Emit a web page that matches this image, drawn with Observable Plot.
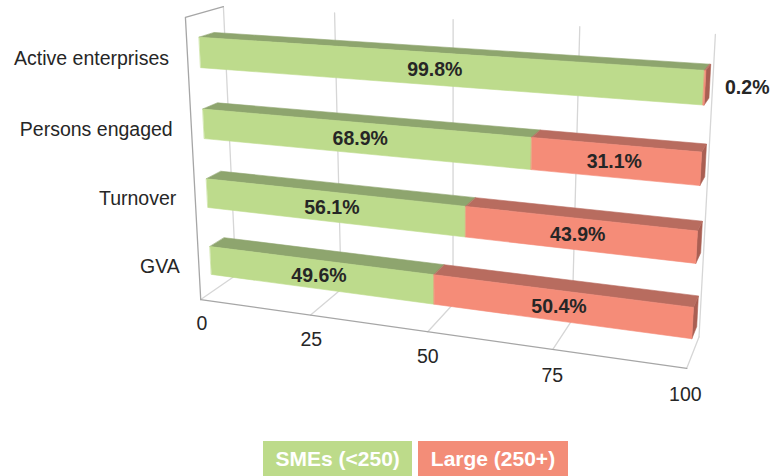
<!DOCTYPE html>
<html><head><meta charset="utf-8">
<script src="https://cdn.jsdelivr.net/npm/d3@7"></script>
<script src="https://cdn.jsdelivr.net/npm/@observablehq/plot@0.6"></script>
<style>
body{margin:0;background:#fff;font-family:"Liberation Sans",Arial,sans-serif;}
#chart svg{display:block;overflow:visible}
.legend{display:flex;gap:6px;margin-left:263px;}
.legend span{display:block;height:35px;line-height:35px;padding:0 12.5px;color:#fff;font-weight:bold;font-size:21px;}
</style></head><body><div id="chart"></div><div class="legend" id="legend"></div>
<script>
// ---- data ----
const categories = ["Active enterprises", "Persons engaged", "Turnover", "GVA"];
const smeShare = [99.8, 68.9, 56.1, 49.6];
const largeShare = [0.2, 31.1, 43.9, 50.4];
const seriesNames = ["SMEs (<250)", "Large (250+)"];
const tickValues = [0, 25, 50, 75, 100];

// ---- styles ----
const palette = [
  {front: "#bddb8c", top: "#8ea56e", end: "#8ea56e", legend: "#bddb8a"},
  {front: "#f58c78", top: "#b86c5f", end: "#a95f53", legend: "#f38d78"}
];

// ---- camera: 3D box (value 0..100, rows 0..4, depth 0 front..1 back) calibrated to the view ----
const calibration = [
  [0,4,1, 222.7,7.3],[25,4,1,334,13.6],[50,4,1,453,19.6],[75,4,1,579,26.8],[100,4,1,715,32],
  [0,0,1,235,270],[100,0,1,699,340],
  [0,4,0,185,15],[0,0,0,200,302],[100,0,0,686,365],
  [25,0,0,310,316.5],[50,0,0,430,332],[75,0,0,550,347.5]
];
function fitCamera(pairs) {
  const n = 11, M = Array.from({length: n}, () => new Array(n + 1).fill(0));
  const add = (row, rhs) => { for (let i = 0; i < n; i++) { for (let j = 0; j < n; j++) M[i][j] += row[i] * row[j]; M[i][n] += row[i] * rhs; } };
  for (const [X, Y, Z, u, v] of pairs) {
    const x = X / 100, y = Y / 4;
    add([x, y, Z, 1, 0, 0, 0, 0, -u * x, -u * y, -u * Z], u);
    add([0, 0, 0, 0, x, y, Z, 1, -v * x, -v * y, -v * Z], v);
  }
  for (let c = 0; c < n; c++) {
    let p = c; for (let r = c + 1; r < n; r++) if (Math.abs(M[r][c]) > Math.abs(M[p][c])) p = r;
    [M[c], M[p]] = [M[p], M[c]];
    for (let r = 0; r < n; r++) { if (r === c) continue; const f = M[r][c] / M[c][c]; for (let k = c; k <= n; k++) M[r][k] -= f * M[c][k]; }
  }
  return M.map((row, i) => row[n] / row[i]);
}
const P = fitCamera(calibration);
function project3(X, Y, Z) {
  const x = X / 100, y = Y / 4, w = P[8] * x + P[9] * y + P[10] * Z + 1;
  return [(P[0] * x + P[1] * y + P[2] * Z + P[3]) / w, (P[4] * x + P[5] * y + P[6] * Z + P[7]) / w];
}
const ZF = 0.32, ZB = 0.72, HALF = 0.21, SHIFT = -0.03;
// 2D marks (text): above the floor they sit on the bars' front plane, below it on the box front plane
const projection = d3.geoTransform({
  point(x, y, z) {
    const [u, v] = z !== undefined ? project3(x, y, z) : (y >= 0 ? project3(x, y, ZF) : project3(x, y, 0));
    this.stream.point(u, v);
  }
});

const line = (pts) => ({type: "LineString", coordinates: pts});
const poly = (pts) => ({type: "Polygon", coordinates: [[...pts, pts[0]]]});
const NR = categories.length;

const grid = [];
for (const t of tickValues) grid.push({geom: line([[t, 0, 1], [t, NR, 1]])});
for (const t of tickValues.slice(1, -1)) grid.push({geom: line([[t, 0, 1], [t, 0, 0]])});
grid.push({geom: line([[0, 0, 0], [0, 0, 1]])});
grid.push({geom: line([[100, 0, 0], [100, 0, 1]])});
const edges = [
  {geom: line([[0, 0, 0], [0, NR, 0], [0, NR, 1]])},
  {geom: line([[0, 0, 0], [100, 0, 0]])}
];

const rowY = (i) => NR - i - 0.5 + SHIFT;
const faces = [], labels = [], outside = [];
categories.forEach((c, i) => {
  const yc = rowY(i), y0 = yc - HALF, y1 = yc + HALF;
  const vals = [smeShare[i], largeShare[i]];
  let a = 0;
  vals.forEach((v, s) => {
    const b = a + v, col = palette[s];
    if (s === vals.length - 1) faces.push({geom: poly([[b, y0, ZF], [b, y0, ZB], [b, y1, ZB], [b, y1, ZF]]), fill: col.end});
    faces.push({geom: poly([[a, y1, ZF], [b, y1, ZF], [b, y1, ZB], [a, y1, ZB]]), fill: col.top});
    faces.push({geom: poly([[a, y0, ZF], [b, y0, ZF], [b, y1, ZF], [a, y1, ZF]]), fill: col.front});
    if (v >= 5) labels.push({x: (a + b) / 2, y: yc, text: v.toFixed(1) + "%"});
    else outside.push({x: b, y: yc, text: v.toFixed(1) + "%"});
    a = b;
  });
});

const chart = Plot.plot({
  width: 783, height: 441, margin: 0,
  projection,
  style: {fontFamily: '"Liberation Sans", Arial, sans-serif', background: "#fff", overflow: "visible"},
  marks: [
    Plot.geo(grid, {geometry: "geom", stroke: "#d6d6d6", strokeWidth: 1.3, fill: "none"}),
    Plot.geo(edges, {geometry: "geom", stroke: "#a6a6a6", strokeWidth: 1.3, fill: "none"}),
    Plot.geo(faces, {geometry: "geom", fill: "fill", stroke: "fill", strokeWidth: 0.6}),
    Plot.text(labels, {x: "x", y: "y", text: "text", fontSize: 19.5, fontWeight: "bold", fill: "#262626", dy: 1}),
    Plot.text(outside, {x: "x", y: "y", text: "text", fontSize: 19.5, fontWeight: "bold", fill: "#262626", textAnchor: "start", dx: 20, dy: 0}),
    Plot.text(categories, {x: 0, y: (d, i) => rowY(i), text: (d) => d, fontSize: 19.5, fill: "#262626", textAnchor: "end", dx: -31, dy: 6}),
    Plot.text(tickValues, {x: (d) => d, y: -0.36, text: (d) => String(d), fontSize: 19.5, fill: "#262626"})
  ]
});
document.getElementById("chart").appendChild(chart);

const legend = document.getElementById("legend");
seriesNames.forEach((name, s) => {
  const el = document.createElement("span");
  el.textContent = name;
  el.style.background = palette[s].legend;
  legend.appendChild(el);
});
</script></body></html>
